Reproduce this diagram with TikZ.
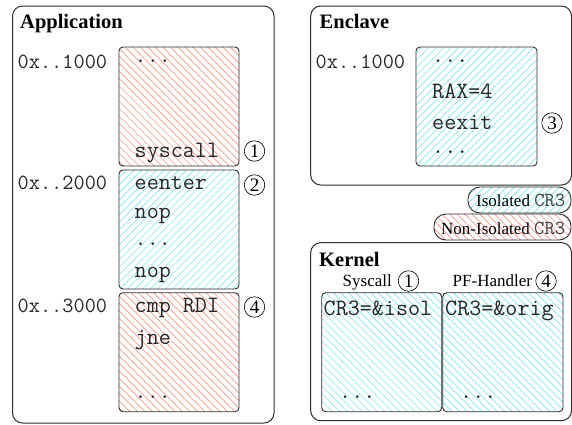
\documentclass[tikz,border=0pt]{standalone}
\usepackage{fontspec}
\setmainfont{Liberation Serif}
\usetikzlibrary{patterns.meta}
\definecolor{hred}{RGB}{246,150,132}
\definecolor{hcyan}{RGB}{120,230,244}
\definecolor{bord}{RGB}{45,45,45}
\tikzset{
  outerbox/.style={draw=bord, line width=1pt, rounded corners=10pt},
  membox/.style={draw=bord, line width=0.9pt, rounded corners=4pt},
  redhatch/.style={pattern={Lines[angle=-45,distance=5.3pt,line width=0.65pt]}, pattern color=hred},
  cyanne/.style={pattern={Lines[angle=45,distance=5.3pt,line width=0.65pt]}, pattern color=hcyan},
  cyannw/.style={pattern={Lines[angle=-45,distance=5.3pt,line width=0.65pt]}, pattern color=hcyan},
  txt/.style={inner sep=0pt, anchor=base west},
  addr/.style={txt, font=\ttfamily\fontsize{21.7}{21.7}\selectfont, text=black!85},
  code/.style={txt, font=\ttfamily\fontsize{23.4}{23.4}\selectfont, text=black!85},
  title/.style={txt, font=\bfseries\fontsize{20.5}{20.5}\selectfont},
  lbl/.style={txt, font=\fontsize{17}{17}\selectfont},
  circnum/.style={circle, draw=black, line width=0.6pt, minimum size=20.5pt, inner sep=0pt, font=\fontsize{19}{19}\selectfont},
}
\begin{document}
\begin{tikzpicture}[x=1pt, y=-1pt]
\useasboundingbox (0,0) rectangle (572,424);
% outer boxes
\draw[outerbox] (12.5,6) rectangle (274,423);
\draw[outerbox] (310.7,6) rectangle (571.5,185);
\draw[outerbox] (310.7,242.7) rectangle (571.5,420.7);
% application memory blocks
\draw[membox, redhatch] (119,47) rectangle (239,166);
\draw[membox, cyanne] (119,170) rectangle (239,289);
\draw[membox, redhatch] (119,292.7) rectangle (239,411.7);
% enclave block
\draw[membox, cyanne] (416,47) rectangle (537,166);
% legend
\draw[draw=bord, line width=0.9pt, rounded corners=12pt, cyanne] (468,187) rectangle (571,213);
\draw[draw=bord, line width=0.9pt, rounded corners=12pt, redhatch] (434,214) rectangle (571,240);
% kernel blocks
\draw[membox, cyannw] (321.7,292.7) rectangle (441.7,411.7);
\draw[membox, cyannw] (442.7,292.7) rectangle (563,411.7);
% titles
\node[title] (tapp) at (20,28.3) {Application};
\node[title] (tenc) at (319.5,28) {Enclave};
\node[title] (tker) at (319,266) {Kernel};
% addresses
\node[addr] (ad1) at (17.5,68) {0x..1000};
\node[addr] (ad2) at (17.5,189.5) {0x..2000};
\node[addr] (ad3) at (17.5,312) {0x..3000};
\node[addr] (ad4) at (315.5,68) {0x..1000};
% app code
\node[code] (a1) at (134.5,62.5) {...};
\node[code] (a2) at (134.5,157) {syscall};
\node[code] (a3) at (134.5,189) {eenter};
\node[code] (a4) at (134.5,218) {nop};
\node[code] (a5) at (134.5,245) {...};
\node[code] (a6) at (134.5,277) {nop};
\node[code] (a7) at (134.5,312.7) {cmp RDI};
\node[code] (a8) at (134.5,344) {jne};
\node[code] (a9) at (134.5,398) {...};
% enclave code
\node[code] (e1) at (432,62.5) {...};
\node[code] (e2) at (432,98) {RAX=4};
\node[code] (e3) at (432,129) {eexit};
\node[code] (e4) at (432,153) {...};
% kernel
\node[lbl] (ks) at (342.5,286.7) {Syscall};
\node[lbl] (kp) at (452.5,286.7) {PF-Handler};
\node[code] (k1) at (323.5,315) {CR3=\&isol};
\node[code] (k2) at (445,315) {CR3=\&orig};
\node[code] (k3) at (339,398) {...};
\node[code] (k4) at (460,398) {...};
% legend text
\node[lbl] (li) at (476,206.7) {Isolated {\ttfamily\fontsize{20}{20}\selectfont\color{black!75}CR3}};
\node[lbl] (ln) at (441,234.7) {Non-Isolated {\ttfamily\fontsize{20}{20}\selectfont\color{black!75}CR3}};
% circled step numbers
\node[circnum] (n1) at (254.5,151) {1};
\node[circnum] (n2) at (254.5,185) {2};
\node[circnum] (n4) at (254.5,307) {4};
\node[circnum] (n3) at (552,123) {3};
\node[circnum] (n1k) at (408.5,281) {1};
\node[circnum] (n4k) at (546,281) {4};
\end{tikzpicture}
\end{document}
